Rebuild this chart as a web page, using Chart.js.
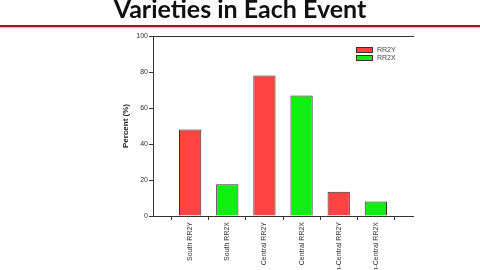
<!DOCTYPE html>
<html>
<head>
<meta charset="utf-8">
<script src="https://cdn.jsdelivr.net/npm/chart.js@4.4.1/dist/chart.umd.min.js"></script>
<style>
  html, body { margin: 0; padding: 0; background: #fff; }
  #wrap { position: relative; width: 480px; height: 270px; overflow: hidden; }
  #title {
    position: absolute; left: 0; top: -7px; width: 480px; text-align: center;
    font: bold 25px Lato, "Liberation Sans", sans-serif; color: #111; line-height: 30px;
  }
  #rule { position: absolute; left: 0; top: 25px; width: 480px; height: 2px; background: #8e1f22; box-shadow: 0 1px 1px #bbb; }
  #c { position: absolute; left: 0; top: 0; }
</style>
</head>
<body>
<div id="wrap">
  <canvas id="c" width="480" height="270"></canvas>
  <div id="title">Varieties in Each Event</div>
  <div id="rule"></div>
</div>
<script>
// categories (empty slots at both ends keep the spacing of the original)
const categories = ["", "South RR2Y", "South RR2X", "Central RR2Y", "Central RR2X", "North-Central RR2Y", "North-Central RR2X", ""];
const rr2y = [null, 48, null, 78, null, 13.5, null, null];
const rr2x = [null, null, 17.7, null, 67, null, 8, null];
const yTicks = [0, 20, 40, 60, 80, 100];

// small legend drawn inside the plot, top right
const boxLegend = {
  id: "boxLegend",
  afterDraw(chart) {
    const ctx = chart.ctx;
    const a = chart.chartArea;
    ctx.save();
    ctx.font = "7px Arial, 'Liberation Sans', sans-serif";
    ctx.textBaseline = "middle";
    chart.data.datasets.forEach(function (ds, i) {
      const x = a.right - 57;
      const y = a.top + 11 + i * 8;
      ctx.fillStyle = ds.backgroundColor;
      ctx.strokeStyle = "#333";
      ctx.lineWidth = 1;
      ctx.fillRect(x, y, 17, 5);
      ctx.strokeRect(x + 0.5, y + 0.5, 16, 5);
      ctx.fillStyle = "#444";
      ctx.fillText(ds.label, x + 21, y + 3);
    });
    ctx.restore();
  }
};

const chart = new Chart(document.getElementById("c"), {
  type: "bar",
  data: {
    labels: categories,
    datasets: [
      {
        label: "RR2Y",
        data: rr2y,
        backgroundColor: "#ff4343",
        borderColor: "#333",
        borderWidth: 1
      },
      {
        label: "RR2X",
        data: rr2x,
        backgroundColor: "#11ee11",
        borderColor: "#333",
        borderWidth: 1
      }
    ]
  },
  options: {
    responsive: false,
    animation: false,
    layout: { padding: { left: 117, right: 67, top: 36, bottom: 0 } },
    datasets: { bar: { skipNull: true, barPercentage: 0.6, categoryPercentage: 1 } },
    plugins: {
      legend: { display: false },
      tooltip: { enabled: false }
    },
    scales: {
      x: {
        offset: false,
        afterFit: function (s) { s.height = 54; },
        grid: { drawOnChartArea: false, tickLength: 4, color: "#333" },
        border: { color: "#333" },
        ticks: {
          autoSkip: false, minRotation: 90, maxRotation: 90, padding: 2,
          color: "#333", font: { size: 7, family: "Arial, 'Liberation Sans', sans-serif" }
        }
      },
      x2: {
        position: "top",
        afterFit: function (s) { s.height = 0; },
        grid: { drawOnChartArea: false, drawTicks: false },
        border: { color: "#333" },
        ticks: { display: false }
      },
      y: {
        min: 0,
        max: 100,
        afterFit: function (s) { s.width = 36; },
        afterBuildTicks: function (s) { s.ticks = yTicks.map(v => ({ value: v })); },
        grid: { drawOnChartArea: false, tickLength: 4, color: "#333" },
        border: { color: "#333" },
        ticks: {
          padding: 1, color: "#333",
          font: { size: 7, family: "Arial, 'Liberation Sans', sans-serif" }
        },
        title: {
          display: true, text: "Percent (%)", color: "#222",
          font: { size: 8, weight: "bold", family: "Arial, 'Liberation Sans', sans-serif" },
          padding: { top: 4, bottom: 4 }
        }
      }
    }
  },
  plugins: [boxLegend]
});
</script>
</body>
</html>
